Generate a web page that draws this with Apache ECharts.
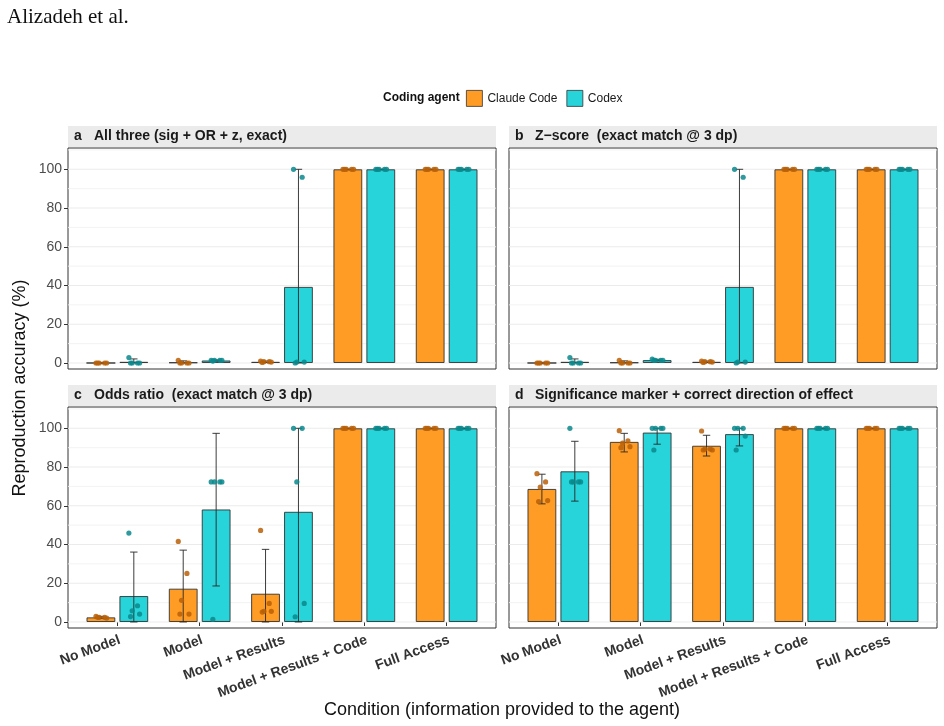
<!DOCTYPE html>
<html>
<head>
<meta charset="utf-8">
<script src="https://cdn.jsdelivr.net/npm/echarts@6/dist/echarts.min.js"></script>
<style>
html,body{margin:0;padding:0;background:#fff;}
#chart{width:944px;height:726px;}
</style>
</head>
<body>
<div id="chart"></div>
<script>
// ---------------- data ----------------
const categories = ['No Model', 'Model', 'Model + Results', 'Model + Results + Code', 'Full Access'];
const yTickValues = [0, 20, 40, 60, 80, 100];
const gridLineValues = [0, 10, 20, 30, 40, 50, 60, 70, 80, 90, 100, 110];
const agents = ['Claude Code', 'Codex'];

// a: All three (sig + OR + z, exact)
const allClaudeMean = [0, 0.3, 0.6, 100, 100];
const allCodexMean = [0.6, 1.3, 39.3, 100, 100];
const allClaudeCI = [[0, 0], [0, 1.1], [0.2, 1.0], [100, 100], [100, 100]];
const allCodexCI = [[0, 2.1], [1.0, 1.6], [0, 100], [100, 100], [100, 100]];
const allClaudeRuns = [[0, 0, 0, 0, 0], [1.4, 0, 0, 0, 0], [1.0, 0.7, 0.7, 0.5, 0.3], [100, 100, 100, 100, 100], [100, 100, 100, 100, 100]];
const allCodexRuns = [[2.8, 0, 0, 0, 0], [1.4, 1.4, 1.4, 1.4, 1.0], [100, 95.9, 0.5, 0.5, 0], [100, 100, 100, 100, 100], [100, 100, 100, 100, 100]];

// b: Z-score (exact match @ 3 dp)
const zClaudeMean = [0, 0.3, 0.6, 100, 100];
const zCodexMean = [0.6, 1.5, 39.3, 100, 100];
const zClaudeCI = [[0, 0], [0, 1.1], [0.2, 1.0], [100, 100], [100, 100]];
const zCodexCI = [[0, 2.1], [1.2, 1.9], [0, 100], [100, 100], [100, 100]];
const zClaudeRuns = [[0, 0, 0, 0, 0], [1.4, 0, 0, 0, 0], [1.0, 0.7, 0.7, 0.5, 0.3], [100, 100, 100, 100, 100], [100, 100, 100, 100, 100]];
const zCodexRuns = [[2.8, 0, 0, 0, 0], [2.0, 1.4, 1.4, 1.4, 1.4], [100, 95.9, 0.5, 0.5, 0], [100, 100, 100, 100, 100], [100, 100, 100, 100, 100]];

// c: Odds ratio (exact match @ 3 dp)
const orClaudeMean = [2.4, 17.2, 14.6, 100, 100];
const orCodexMean = [13.4, 58.1, 56.9, 100, 100];
const orClaudeCI = [[1.9, 2.9], [0, 37.1], [0, 37.5], [100, 100], [100, 100]];
const orCodexCI = [[0, 36.1], [18.6, 97.4], [0, 100], [100, 100], [100, 100]];
const orClaudeRuns = [[2.9, 2.4, 2.4, 2.0, 2.4], [41.6, 25.1, 11.2, 4.1, 4.1], [47.3, 9.6, 5.5, 5.5, 5.1], [100, 100, 100, 100, 100], [100, 100, 100, 100, 100]];
const orCodexRuns = [[45.9, 8.4, 5.8, 4.1, 2.8], [72.3, 72.3, 72.3, 72.3, 1.4], [100, 100, 72.3, 9.6, 2.7], [100, 100, 100, 100, 100], [100, 100, 100, 100, 100]];

// d: Significance marker + correct direction of effect
const sigClaudeMean = [68.7, 93.0, 91.0, 100, 100];
const sigCodexMean = [77.8, 97.8, 97.0, 100, 100];
const sigClaudeCI = [[61.0, 76.3], [87.8, 97.4], [85.7, 96.4], [100, 100], [100, 100]];
const sigCodexCI = [[62.4, 93.3], [91.8, 100], [90.9, 100], [100, 100], [100, 100]];
const sigClaudeRuns = [[76.6, 72.3, 69.6, 62.7, 62.2], [98.8, 93.5, 92.3, 90.5, 90.0], [98.6, 89.3, 89.3, 88.8, 88.8], [100, 100, 100, 100, 100], [100, 100, 100, 100, 100]];
const sigCodexRuns = [[100, 72.3, 72.3, 72.3, 72.3], [100, 100, 100, 100, 88.8], [100, 100, 100, 96, 88.8], [100, 100, 100, 100, 100], [100, 100, 100, 100, 100]];

const panelTitles = [
  ['a', 'All three (sig + OR + z, exact)'],
  ['b', 'Z\u2212score  (exact match @ 3 dp)'],
  ['c', 'Odds ratio  (exact match @ 3 dp)'],
  ['d', 'Significance marker + correct direction of effect']
];

// ---------------- styles / layout ----------------
const FONT = 'Liberation Sans, Arial, sans-serif';
const barColors = ['#FF9C25', '#27D4D9'];
const dotColors = ['rgba(184,96,8,0.85)', 'rgba(10,136,140,0.85)'];
const jitterPattern = [-0.06, 0.045, -0.02, 0.07, -0.04];
const Y_MIN = -3.1, Y_MAX = 111;

const frames = [
  { left: 68, top: 148 },
  { left: 509, top: 148 },
  { left: 68, top: 407 },
  { left: 509, top: 407 }
];
const FW = 428, FH = 221, INSET = 8.2;

const panels = [
  { means: [allClaudeMean, allCodexMean], ci: [allClaudeCI, allCodexCI], runs: [allClaudeRuns, allCodexRuns] },
  { means: [zClaudeMean, zCodexMean], ci: [zClaudeCI, zCodexCI], runs: [zClaudeRuns, zCodexRuns] },
  { means: [orClaudeMean, orCodexMean], ci: [orClaudeCI, orCodexCI], runs: [orClaudeRuns, orCodexRuns] },
  { means: [sigClaudeMean, sigCodexMean], ci: [sigClaudeCI, sigCodexCI], runs: [sigClaudeRuns, sigCodexRuns] }
];

const grid = [], xAxis = [], yAxis = [], series = [], graphic = [];

function errRender(dir) {
  return function (params, api) {
    const c = api.value(0), lo = api.value(1), hi = api.value(2);
    const pLo = api.coord([c, lo]);
    const pHi = api.coord([c, hi]);
    const bw = api.size([1, 0])[0];
    const x = pLo[0] + dir * 0.2 * bw;
    const cap = 0.045 * bw;
    const st = { stroke: 'rgba(40,40,40,0.9)', lineWidth: 1 };
    return {
      type: 'group',
      children: [
        { type: 'line', shape: { x1: x, y1: pLo[1], x2: x, y2: pHi[1] }, style: st },
        { type: 'line', shape: { x1: x - cap, y1: pLo[1], x2: x + cap, y2: pLo[1] }, style: st },
        { type: 'line', shape: { x1: x - cap, y1: pHi[1], x2: x + cap, y2: pHi[1] }, style: st }
      ]
    };
  };
}
function dotRender(dir, color) {
  return function (params, api) {
    const c = api.value(0), v = api.value(1), k = api.value(2);
    const p = api.coord([c, v]);
    const bw = api.size([1, 0])[0];
    const x = p[0] + dir * 0.2 * bw + jitterPattern[k % jitterPattern.length] * bw;
    return { type: 'circle', shape: { cx: x, cy: p[1], r: 2.6 }, style: { fill: color } };
  };
}
function gridLineRender(params, api) {
  const v = api.value(1);
  const y = api.coord([0, v])[1];
  const cs = params.coordSys;
  const major = v % 20 === 0;
  return {
    type: 'line',
    shape: { x1: cs.x, y1: y, x2: cs.x + cs.width, y2: y },
    style: { stroke: major ? '#EBEBEB' : '#F2F2F2', lineWidth: major ? 1.1 : 0.9 }
  };
}

panels.forEach((pd, i) => {
  const f = frames[i];
  const showX = i >= 2;
  const showY = i % 2 === 0;
  const gFrame = grid.length;
  grid.push({ left: f.left, top: f.top, width: FW, height: FH, show: true, backgroundColor: '#fff',
    borderColor: '#333', borderWidth: 1, outerBoundsMode: 'none', containLabel: false });
  xAxis.push({ type: 'value', gridIndex: gFrame, min: 0, max: 1, show: false });
  yAxis.push({
    type: 'value', gridIndex: gFrame, min: Y_MIN, max: Y_MAX,
    axisLine: { show: false },
    splitLine: { show: false },
    axisTick: { show: showY, length: 4, lineStyle: { color: '#333' }, customValues: yTickValues },
    axisLabel: { show: showY, margin: 6, color: '#4D4D4D', fontSize: 14, fontFamily: FONT, customValues: yTickValues }
  });
  series.push({
    type: 'custom', name: 'grid' + i, xAxisIndex: gFrame, yAxisIndex: gFrame, z: 1, silent: true,
    renderItem: gridLineRender, data: gridLineValues.map(v => [0, v]), clip: false
  });
  const gIn = grid.length;
  grid.push({ left: f.left + INSET, top: f.top, width: FW - 2 * INSET, height: FH, outerBoundsMode: 'none', containLabel: false });
  xAxis.push({
    type: 'category', gridIndex: gIn, data: categories,
    axisLine: { show: false },
    axisTick: { show: showX, alignWithLabel: true, length: 4, lineStyle: { color: '#333' } },
    axisLabel: { show: showX, rotate: 20, margin: 5, interval: 0, align: 'right', verticalAlign: 'top',
      color: '#333', fontWeight: 'bold', fontSize: 14, fontFamily: FONT }
  });
  yAxis.push({ type: 'value', gridIndex: gIn, min: Y_MIN, max: Y_MAX, show: false, splitLine: { show: false } });

  [0, 1].forEach(a => {
    series.push({
      type: 'bar', name: agents[a], xAxisIndex: gIn, yAxisIndex: gIn, z: 2,
      barWidth: '35%', barGap: '14.3%',
      itemStyle: { color: barColors[a], borderColor: 'rgba(51,51,51,0.9)', borderWidth: 1 },
      emphasis: { disabled: true },
      data: pd.means[a]
    });
  });
  [0, 1].forEach(a => {
    const dir = a === 0 ? -1 : 1;
    series.push({
      type: 'custom', name: 'ci' + i + a, xAxisIndex: gIn, yAxisIndex: gIn, z: 3, silent: true,
      renderItem: errRender(dir),
      encode: { x: 0, y: [1, 2] },
      data: pd.ci[a].map((r, c) => [c, r[0], r[1]]), clip: false
    });
  });
  [0, 1].forEach(a => {
    const dir = a === 0 ? -1 : 1;
    const data = [];
    pd.runs[a].forEach((vals, c) => vals.forEach((v, k) => data.push([c, v, k])));
    series.push({
      type: 'custom', name: 'pts' + i + a, xAxisIndex: gIn, yAxisIndex: gIn, z: 4, silent: true,
      renderItem: dotRender(dir, dotColors[a]),
      encode: { x: 0, y: 1 },
      data: data, clip: false
    });
  });

  graphic.push({ type: 'rect', left: f.left, top: f.top - 22, shape: { width: FW, height: 21 }, style: { fill: '#EBEBEB' }, silent: true });
  graphic.push({ type: 'text', left: f.left + 6, top: f.top - 19, style: { text: panelTitles[i][0], font: 'bold 14px ' + FONT, fill: '#1A1A1A' }, silent: true });
  graphic.push({ type: 'text', left: f.left + 26, top: f.top - 19, style: { text: panelTitles[i][1], font: 'bold 14px ' + FONT, fill: '#1A1A1A' }, silent: true });
});

graphic.push({ type: 'text', left: 7, top: 7, style: { text: 'Alizadeh et al.', font: '21px "Liberation Serif", "DejaVu Serif", serif', fill: '#111' } });
graphic.push({ type: 'text', left: 383, top: 92, style: { text: 'Coding agent', font: 'bold 12px ' + FONT, fill: '#111' } });
graphic.push({ type: 'text', x: 502, y: 710, style: { text: 'Condition (information provided to the agent)', font: '18px ' + FONT, fill: '#111', align: 'center', verticalAlign: 'middle' } });
graphic.push({ type: 'text', x: 20, y: 388, rotation: Math.PI / 2, style: { text: 'Reproduction accuracy (%)', font: '18px ' + FONT, fill: '#111', align: 'center', verticalAlign: 'middle' } });

const option = {
  animation: false,
  backgroundColor: '#fff',
  textStyle: { fontFamily: FONT },
  legend: {
    data: agents, left: 461, top: 85, itemWidth: 16, itemHeight: 16, itemGap: 9, icon: 'rect',
    textStyle: { fontSize: 12, color: '#1A1A1A', fontFamily: FONT },
    itemStyle: { borderColor: '#333', borderWidth: 0.8 },
    selectedMode: false
  },
  grid, xAxis, yAxis, series, graphic
};

const chart = echarts.init(document.getElementById('chart'), null, { renderer: 'canvas' });
chart.setOption(option);
</script>
</body>
</html>
